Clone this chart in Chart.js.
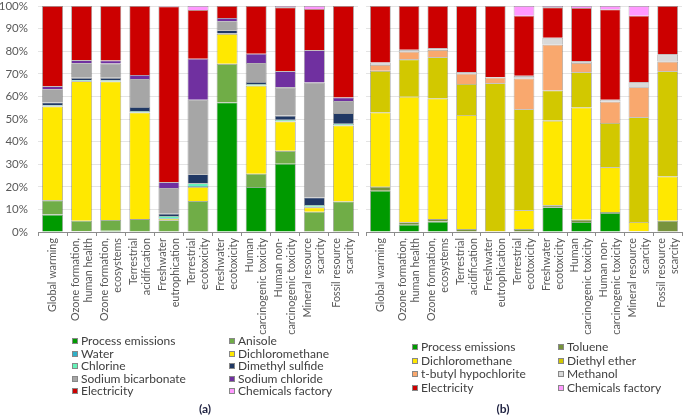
<!DOCTYPE html>
<html>
<head>
<meta charset="utf-8">
<script src="https://cdn.jsdelivr.net/npm/chart.js@4.4.1/dist/chart.umd.min.js"></script>
<style>
  body { margin: 0; background: #fff; width: 685px; height: 416px; position: relative; overflow: hidden; font-family: Lato, sans-serif; }
  canvas { position: absolute; top: 0; }
  #chartA { left: 0; }
  #chartB { left: 362px; }
  .leg { position: absolute; font-size: 12px; color: #404040; white-space: nowrap; line-height: 12px; }
  .leg i { position: absolute; left: -9px; top: 3px; width: 6px; height: 6px; border: 1px solid #888; box-sizing: border-box; }
  .cap { position: absolute; font-size: 12px; font-weight: bold; color: #1e2140; transform: translate(-50%, -50%); }
</style>
</head>
<body>
<canvas id="chartA" width="362" height="345"></canvas>
<canvas id="chartB" width="323" height="345"></canvas>
<div id="legends"></div>
<div class="cap" style="left:205px; top:408px">(a)</div>
<div class="cap" style="left:503px; top:408px">(b)</div>
<script>
// impact categories (shared by both panels)
const categories = [
    ['Global warming'],
    ['Ozone formation,', 'human health'],
    ['Ozone formation,', 'ecosystems'],
    ['Terrestrial', 'acidification'],
    ['Freshwater', 'eutrophication'],
    ['Terrestrial', 'ecotoxicity'],
    ['Freshwater', 'ecotoxicity'],
    ['Human', 'carcinogenic toxicity'],
    ['Human non-', 'carcinogenic toxicity'],
    ['Mineral resource', 'scarcity'],
    ['Fossil resource', 'scarcity']
];
const yTicks = [0, 10, 20, 30, 40, 50, 60, 70, 80, 90, 100];

// panel (a) contributions, %
const aProcess  = [7.7, 0.3, 0.5, 0, 0, 0, 57.3, 19.9, 30.2, 0, 0];
const aAnisole  = [6.3, 4.7, 4.8, 5.7, 5.2, 13.7, 17.1, 5.9, 5.7, 9.0, 13.5];
const aDcm      = [41.5, 61.7, 61.3, 47.2, 0.7, 6.2, 13.2, 38.9, 13.0, 1.9, 33.6];
const aWater    = [0.1, 0.1, 0.1, 0.1, 0.3, 0.5, 0.1, 0.1, 0.1, 0.3, 0.1];
const aChlorine = [0.5, 0.4, 0.4, 0.5, 0.9, 1.2, 0.1, 0.7, 0.7, 0.8, 0.7];
const aDms      = [1.2, 1.0, 1.1, 1.8, 1.0, 4.0, 1.5, 0.9, 1.8, 3.3, 4.7];
const aBicarb   = [5.9, 6.5, 6.4, 12.4, 11.4, 32.9, 4.0, 8.4, 12.5, 50.9, 5.4];
const aNacl     = [1.3, 1.3, 1.3, 1.8, 2.5, 18.2, 1.4, 4.1, 7.1, 14.2, 1.5];
const aElec     = [35.5, 24.0, 24.1, 30.5, 77.8, 21.5, 5.3, 21.1, 28.3, 18.3, 40.5];
const aFactory  = [0, 0, 0, 0, 0.2, 1.8, 0, 0, 0.6, 1.3, 0];

// panel (b) contributions, %
const bProcess  = [18.3, 3.2, 4.6, 0, 0, 0, 11.0, 4.4, 8.4, 0, 0];
const bToluene  = [1.7, 1.1, 1.1, 1.3, 0.2, 1.3, 0.8, 1.0, 0.4, 0.3, 5.0];
const bDcm      = [32.9, 55.6, 53.4, 50.5, 0.2, 8.3, 37.5, 49.7, 19.9, 4.1, 19.6];
const bEther    = [18.4, 16.5, 18.2, 13.7, 65.4, 44.7, 13.3, 15.6, 19.5, 46.4, 46.5];
const bHypo     = [2.6, 3.4, 3.3, 4.5, 2.5, 13.6, 20.3, 4.1, 9.4, 13.3, 4.3];
const bMethanol = [1.1, 0.8, 0.8, 0.8, 0.3, 1.2, 3.1, 0.8, 0.9, 2.2, 3.2];
const bElec     = [25.0, 19.4, 18.6, 29.2, 31.4, 26.6, 13.4, 23.5, 40.0, 29.4, 21.4];
const bFactory  = [0, 0, 0, 0, 0, 4.3, 0.6, 0.9, 1.5, 4.3, 0];

const C = {
    process: '#009a00', anisole: '#70ad47', water: '#2fb0c8', dcm: '#ffe800',
    chlorine: '#66f2b8', dms: '#203864', bicarb: '#a6a6a6', nacl: '#7030a0',
    elec: '#cc0000', factory: '#ff99ff', toluene: '#77933c', ether: '#d2c800',
    hypo: '#f9a86e', methanol: '#d9d9d9'
};

// stacking order (bottom -> top)
const seriesA = [
    ['Process emissions', aProcess, C.process],
    ['Anisole', aAnisole, C.anisole],
    ['Dichloromethane', aDcm, C.dcm],
    ['Water', aWater, C.water],
    ['Chlorine', aChlorine, C.chlorine],
    ['Dimethyl sulfide', aDms, C.dms],
    ['Sodium bicarbonate', aBicarb, C.bicarb],
    ['Sodium chloride', aNacl, C.nacl],
    ['Electricity', aElec, C.elec],
    ['Chemicals factory', aFactory, C.factory]
];
const seriesB = [
    ['Process emissions', bProcess, C.process],
    ['Toluene', bToluene, C.toluene],
    ['Dichloromethane', bDcm, C.dcm],
    ['Diethyl ether', bEther, C.ether],
    ['t-butyl hypochlorite', bHypo, C.hypo],
    ['Methanol', bMethanol, C.methanol],
    ['Electricity', bElec, C.elec],
    ['Chemicals factory', bFactory, C.factory]
];

const grey = '#595959';

// vertical category labels, lines centred on the bar (Chart.js puts line 1 on the tick)
const xLabels = {
    id: 'xLabels',
    afterDraw(chart) {
        const { ctx, scales: { x } } = chart;
        const lh = 13;
        ctx.save();
        ctx.font = '10.8px Lato, sans-serif';
        ctx.fillStyle = grey;
        ctx.textAlign = 'right';
        ctx.textBaseline = 'middle';
        chart.data.labels.forEach((lines, i) => {
            const px = x.getPixelForTick(i);
            lines.forEach((line, j) => {
                const off = (j - (lines.length - 1) / 2) * lh;
                ctx.save();
                ctx.translate(px + off, x.top + 6);
                ctx.rotate(-Math.PI / 2);
                ctx.fillText(line, 0, 0);
                ctx.restore();
            });
        });
        ctx.restore();
    }
};

function makeChart(id, series, showY, leftPad) {
    return new Chart(document.getElementById(id), {
        type: 'bar',
        data: {
            labels: categories,
            datasets: series.map(([label, data, color]) => ({
                label, data, backgroundColor: color,
                borderColor: 'rgba(80,80,80,0.55)', borderWidth: 0.8,
                barPercentage: 0.72, categoryPercentage: 1
            }))
        },
        options: {
            responsive: false, animation: false,
            layout: { padding: { top: 6, right: showY ? 4 : 3, left: 0, bottom: 0 } },
            plugins: { legend: { display: false }, tooltip: { enabled: false } },
            scales: {
                x: {
                    stacked: true,
                    grid: { display: true, drawOnChartArea: false, tickLength: 4, color: '#8c8c8c' },
                    border: { color: '#8c8c8c' },
                    ticks: { display: false },
                    afterFit: (s) => { s.height = 345 - 232; s.paddingLeft = 0; s.paddingRight = 0; }
                },
                y: {
                    stacked: true, min: 0, max: 100,
                    afterBuildTicks: (s) => { s.ticks = yTicks.map(v => ({ value: v })); },
                    grid: { color: '#e4e4e4', drawTicks: false },
                    border: { display: false },
                    ticks: { display: showY, color: grey, font: { family: 'Lato, sans-serif', size: 11.5 }, padding: 10, callback: (v) => v + '%' },
                    afterFit: (s) => { s.width = leftPad; s.paddingTop = 0; s.paddingBottom = 0; }
                }
            }
        },
        plugins: [xLabels]
    });
}

makeChart('chartA', seriesA, true, 38);
makeChart('chartB', seriesB, false, 4);

// two-column legends, row-wise like the source figure
const legA = ['Process emissions', 'Anisole', 'Water', 'Dichloromethane', 'Chlorine',
    'Dimethyl sulfide', 'Sodium bicarbonate', 'Sodium chloride', 'Electricity', 'Chemicals factory'];
const legB = ['Process emissions', 'Toluene', 'Dichloromethane', 'Diethyl ether',
    't-butyl hypochlorite', 'Methanol', 'Electricity', 'Chemicals factory'];

function drawLegend(names, series, cols, rowY, rowH) {
    const box = document.getElementById('legends');
    names.forEach((name, i) => {
        const color = series.find(s => s[0] === name)[2];
        const el = document.createElement('div');
        el.className = 'leg';
        el.style.left = cols[i % 2] + 'px';
        el.style.top = (rowY + Math.floor(i / 2) * rowH - 6) + 'px';
        el.innerHTML = '<i style="background:' + color + '"></i>' + name;
        box.appendChild(el);
    });
}
drawLegend(legA, seriesA, [81, 238], 341, 12.5);
drawLegend(legB, seriesB, [421, 567], 347, 13.6);
</script>
</body>
</html>
